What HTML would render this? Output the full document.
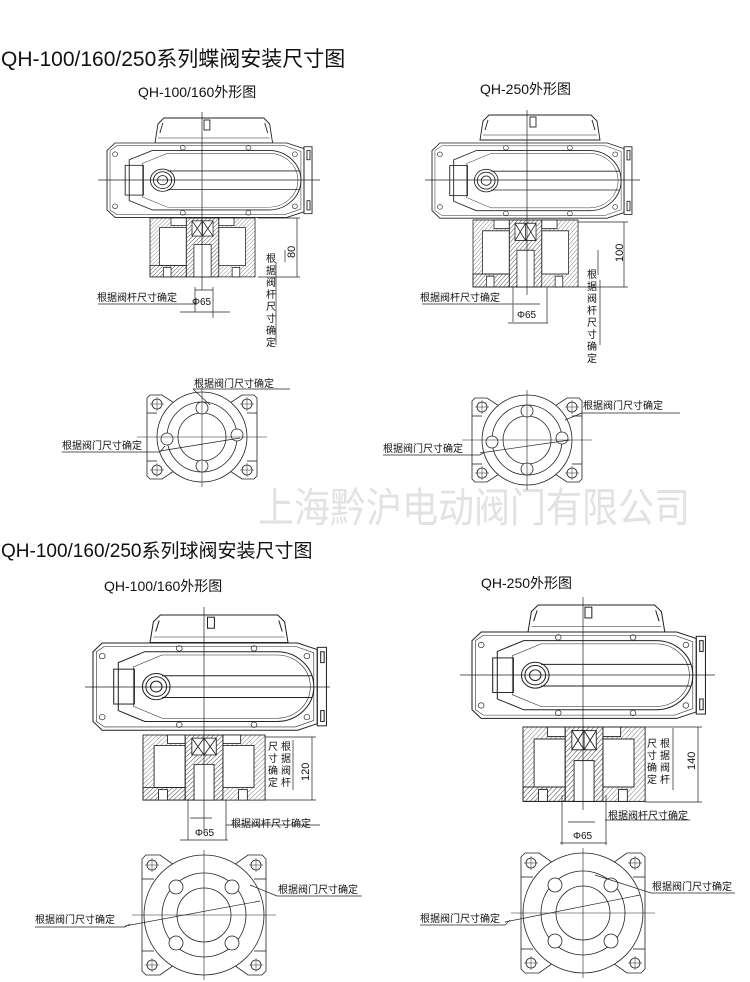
<!DOCTYPE html>
<html><head><meta charset="utf-8"><style>
html,body{margin:0;padding:0;background:#fff;}
svg{display:block;}
text{font-family:"Liberation Sans","Noto Sans CJK SC",sans-serif;fill:#111;}
</style></head><body>
<svg width="750" height="982" viewBox="0 0 750 982" xmlns="http://www.w3.org/2000/svg">
<defs>
<pattern id="h" patternUnits="userSpaceOnUse" width="3" height="3" patternTransform="rotate(45)">
<line x1="0" y1="0" x2="0" y2="3" stroke="#555" stroke-width="0.7"/></pattern>
<g id="body" fill="none" stroke="#222" stroke-width="0.9">
<path d="M8,0 L178,0 L195,6 L195,74 L178,80 L8,80 L0,72 L0,8 Z" fill="#fff"/>
<path d="M3,8 L10,3 L176,3 L192,9 L192,71 L176,77 L10,77 L3,72 Z" stroke-width="0.5"/>
<rect x="195" y="4" width="8" height="72"/>
<rect x="198" y="8" width="3" height="10"/><rect x="198" y="62" width="3" height="10"/>
<path d="M22,18 L45,8 L160,8 A32,32 0 0 1 160,72 L45,72 L22,62 Z"/>
<path d="M35,22 L60,11 L160,11 A29,29 0 0 1 160,69 L60,69 L35,58 Z" stroke-width="0.5"/>
<rect x="18" y="24" width="18" height="32"/>
<line x1="60" y1="30" x2="190" y2="30"/><line x1="60" y1="50" x2="190" y2="50"/>
<circle cx="55" cy="40" r="12"/><circle cx="55" cy="40" r="9"/><circle cx="55" cy="40" r="5"/>
<g stroke-width="0.6"><circle cx="8" cy="12" r="2.5"/><circle cx="8" cy="68" r="2.5"/><circle cx="186" cy="12" r="2.5"/><circle cx="186" cy="68" r="2.5"/><circle cx="75" cy="5" r="2.5"/><circle cx="140" cy="5" r="2.5"/><circle cx="75" cy="75" r="2.5"/><circle cx="140" cy="75" r="2.5"/></g>
</g>
<g id="cap" fill="#fff" stroke="#222" stroke-width="0.9">
<path d="M0,25 L3,6 L9,0 L111,0 L117,6 L120,25 Z"/>
<line x1="3" y1="20" x2="117" y2="20" stroke-width="0.5"/>
<rect x="50" y="2" width="6" height="10" fill="none"/>
<path d="M5,15 L8,5 M115,15 L112,5" fill="none"/>
</g>
<g id="ped" stroke="#222" stroke-width="0.8">
<rect x="0" y="0" width="110" height="62" fill="url(#h)"/>
<rect x="10" y="10" width="28" height="40" fill="#fff"/>
<rect x="72" y="10" width="28" height="40" fill="#fff"/>
<rect x="22" y="0" width="16" height="8" fill="#fff"/>
<rect x="72" y="0" width="16" height="8" fill="#fff"/>
<rect x="38" y="0" width="34" height="62" fill="url(#h)"/>
<rect x="46" y="28" width="18" height="34" fill="#fff"/>
<rect x="44" y="3" width="22" height="16" fill="#fff"/>
<path d="M44,3 L55,19 L66,3 M44,19 L55,3 L66,19 M55,3 L55,19" fill="none"/>
<rect x="0" y="50" width="38" height="12" fill="url(#h)"/>
<rect x="14" y="52" width="8" height="10" fill="#fff"/>
<rect x="86" y="52" width="8" height="10" fill="#fff"/>
</g>
<g id="fb" fill="none" stroke="#222" stroke-width="0.8">
<path d="M-52,-42 L-40,-42 L-28,-34 L28,-34 L40,-42 L52,-42 L55,-39 L55,39 L52,42 L40,42 L28,34 L-28,34 L-40,42 L-52,42 L-55,39 L-55,-39 Z"/>
<line x1="-55" y1="-24" x2="-45" y2="-24"/><line x1="45" y1="-24" x2="55" y2="-24"/>
<line x1="-55" y1="24" x2="-45" y2="24"/><line x1="45" y1="24" x2="55" y2="24"/>
<circle r="45" fill="#fff"/><circle r="35"/><circle r="24"/>
<circle cx="0" cy="-29" r="6" fill="#fff"/><circle cx="0" cy="29" r="6" fill="#fff"/><circle cx="-35" cy="2" r="6" fill="#fff"/><circle cx="35" cy="-2" r="6" fill="#fff"/>
<g><circle cx="-45" cy="-33" r="5"/><circle cx="45" cy="-33" r="5"/><circle cx="-45" cy="33" r="5"/><circle cx="45" cy="33" r="5"/>
<path d="M-52,-33h14M-45,-40v14M38,-33h14M45,-40v14M-52,33h14M-45,26v14M38,33h14M45,26v14" stroke-width="0.5"/></g>
<line x1="0" y1="-50" x2="0" y2="50" stroke-width="0.6"/><line x1="-65" y1="0" x2="65" y2="0" stroke-width="0.6"/>
</g>
<g id="fbl" fill="none" stroke="#222" stroke-width="0.8">
<path d="M-58,-60 L-44,-60 L-30,-50 L30,-50 L44,-60 L58,-60 L62,-56 L62,56 L58,60 L44,60 L30,50 L-30,50 L-44,60 L-58,60 L-62,56 L-62,-56 Z"/>
<line x1="-62" y1="-36" x2="-50" y2="-36"/><line x1="50" y1="-36" x2="62" y2="-36"/>
<line x1="-62" y1="36" x2="-50" y2="36"/><line x1="50" y1="36" x2="62" y2="36"/>
<circle r="60" fill="#fff"/><circle r="42"/><circle r="27"/>
<circle cx="-28" cy="-28" r="7" fill="#fff"/><circle cx="28" cy="-28" r="7" fill="#fff"/><circle cx="-28" cy="28" r="7" fill="#fff"/><circle cx="28" cy="28" r="7" fill="#fff"/>
<circle cx="-52" cy="-50" r="5"/><circle cx="52" cy="-50" r="5"/><circle cx="-52" cy="50" r="5"/><circle cx="52" cy="50" r="5"/>
<path d="M-59,-50h14M-52,-57v14M45,-50h14M52,-57v14M-59,50h14M-52,43v14M45,50h14M52,43v14" stroke-width="0.5"/>
<line x1="0" y1="-65" x2="0" y2="65" stroke-width="0.6"/><line x1="-72" y1="0" x2="72" y2="0" stroke-width="0.6"/>
</g>
</defs>

<text x="1" y="66" font-size="21">QH-100/160/250系列蝶阀安装尺寸图</text>
<text x="138" y="97" font-size="14">QH-100/160外形图</text>
<text x="480" y="94" font-size="14">QH-250外形图</text>
<text x="258" y="522" font-size="41" textLength="432" lengthAdjust="spacingAndGlyphs" style="fill:#e2e2e2">上海黔沪电动阀门有限公司</text>
<text x="1" y="557" font-size="19">QH-100/160/250系列球阀安装尺寸图</text>
<text x="104" y="591" font-size="14">QH-100/160外形图</text>
<text x="481" y="588" font-size="14">QH-250外形图</text>

<g stroke="#222" stroke-width="0.7" fill="none">
<use href="#cap" transform="translate(155,118) scale(0.98,1)"/>
<use href="#body" transform="translate(107,143) scale(1.01,0.93)"/>
<use href="#ped" transform="translate(150,218) scale(0.955,0.95)"/>
<line x1="202" y1="112" x2="202" y2="290"/><line x1="98" y1="180" x2="320" y2="180"/>
<path d="M258,218H300M258,277H300M297,218V277M285,250V262M195,287V312M213,287V318M180,312H230M195,290H213"/>
<path d="M98,304H195"/>
<line x1="276" y1="262" x2="276" y2="345"/>
<use href="#fb" transform="translate(202,437)"/>
<path d="M193,389H290M193,389L210,405M62,452H160L165,446M160,451L240,438"/>
<use href="#cap" transform="translate(480,115)"/>
<use href="#body" transform="translate(432,143) scale(0.985,0.94)"/>
<use href="#ped" transform="translate(473,220) scale(0.955,1.08)"/>
<line x1="527" y1="110" x2="527" y2="295"/><line x1="425" y1="180" x2="640" y2="180"/>
<path d="M578,222H628M578,287H628M624,222V287M598,250V275M513,287V322M547,287V323M508,323H548M514,304H540"/>
<path d="M422,304H513"/>
<line x1="600" y1="280" x2="600" y2="345"/>
<use href="#fb" transform="translate(527,440)"/>
<path d="M582,413H680M582,413L565,420M383,455H480L485,452M480,453L570,440"/>
<use href="#cap" transform="translate(150,615) scale(1.15,1.1)"/>
<use href="#body" transform="translate(93,643) scale(1.15,1.09)"/>
<use href="#ped" transform="translate(143,735) scale(1.11,1.05)"/>
<line x1="204" y1="607" x2="204" y2="830"/><line x1="85" y1="687" x2="330" y2="687"/>
<path d="M265,737H316M265,800H316M312,737V800M293,740V790M188,800V840M226,800V840M180,840H228M190,818H212M226,825H320"/>
<use href="#fbl" transform="translate(204,915)"/>
<path d="M277,896H362M277,896L250,885M35,927H125L130,924M125,926L260,901"/>
<use href="#cap" transform="translate(528,605) scale(1.14,1.08)"/>
<use href="#body" transform="translate(472,632) scale(1.15,1.08)"/>
<use href="#ped" transform="translate(523,727) scale(1.11,1.2)"/>
<line x1="583" y1="597" x2="583" y2="810"/><line x1="460" y1="675" x2="715" y2="675"/>
<path d="M645,727H702M645,802H702M698,727V802M673,728V790M562,795V845M606,795V845M560,843H607M568,822H595M605,820H690"/>
<use href="#fbl" transform="translate(583,913)"/>
<path d="M651,893H735M651,893L595,875M420,925H505L510,920M505,922L640,895"/>
</g>

<g font-size="10">
<text x="97" y="301">根据阀杆尺寸确定</text>
<text x="192" y="305">Φ65</text>
<text transform="translate(295,258) rotate(-90)" font-size="11">80</text>
<text x="266" y="262">根</text><text x="266" y="274">据</text><text x="266" y="286">阀</text><text x="266" y="298">杆</text><text x="266" y="310">尺</text><text x="266" y="322">寸</text><text x="266" y="334">确</text><text x="266" y="346">定</text>
<text x="194" y="387">根据阀门尺寸确定</text>
<text x="62" y="449">根据阀门尺寸确定</text>

<text x="420" y="301">根据阀杆尺寸确定</text>
<text x="517" y="318">Φ65</text>
<text transform="translate(623,262) rotate(-90)" font-size="11">100</text>
<text x="587" y="278">根</text><text x="587" y="290">据</text><text x="587" y="302">阀</text><text x="587" y="314">杆</text><text x="587" y="326">尺</text><text x="587" y="338">寸</text><text x="587" y="350">确</text><text x="587" y="362">定</text>
<text x="583" y="409">根据阀门尺寸确定</text>
<text x="383" y="452">根据阀门尺寸确定</text>

<text x="231" y="827">根据阀杆尺寸确定</text>
<text x="195" y="836">Φ65</text>
<text transform="translate(309,781) rotate(-90)" font-size="11">120</text>
<text x="268" y="750">尺</text><text x="268" y="762">寸</text><text x="268" y="774">确</text><text x="268" y="786">定</text>
<text x="281" y="750">根</text><text x="281" y="762">据</text><text x="281" y="774">阀</text><text x="281" y="786">杆</text>
<text x="278" y="893">根据阀门尺寸确定</text>
<text x="35" y="923">根据阀门尺寸确定</text>

<text x="608" y="819">根据阀杆尺寸确定</text>
<text x="573" y="839">Φ65</text>
<text transform="translate(695,770) rotate(-90)" font-size="11">140</text>
<text x="647" y="747">尺</text><text x="647" y="759">寸</text><text x="647" y="771">确</text><text x="647" y="783">定</text>
<text x="660" y="747">根</text><text x="660" y="759">据</text><text x="660" y="771">阀</text><text x="660" y="783">杆</text>
<text x="652" y="890">根据阀门尺寸确定</text>
<text x="420" y="922">根据阀门尺寸确定</text>
</g>
</svg>
</body></html>
